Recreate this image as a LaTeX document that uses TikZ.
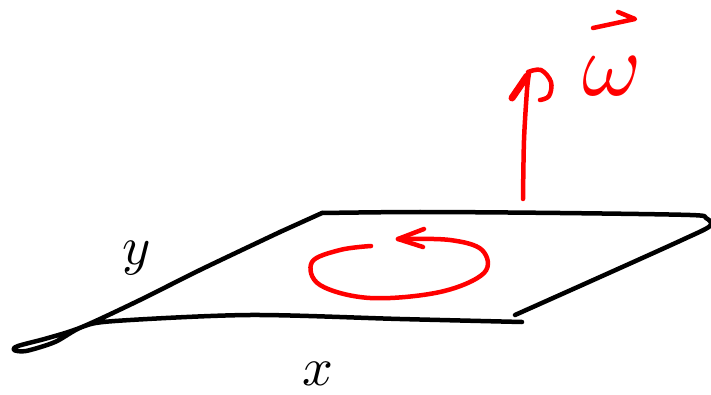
\documentclass[tikz,border=0pt]{standalone}
\begin{document}
\begin{tikzpicture}[x=1pt,y=-1pt,
  ink/.style={line width=4.5pt,line cap=round,line join=round},
  blackink/.style={ink,draw=black},
  redink/.style={ink,draw=red},
  lbl/.style={inner sep=0pt}]
\useasboundingbox (0,0) rectangle (711,395);
% plane: top edge and right corner
\draw[blackink] plot[smooth,tension=0.5] coordinates {(322,213) (420,212) (560,213) (690,215) (706,218) (710,226) (682,240) (600,277) (515,315)};
% left edge with the small loop, then bottom edge
\draw[blackink] plot[smooth,tension=0.5] coordinates {(280,232) (322,213)};
\draw[blackink] plot[smooth,tension=0.5] coordinates {(280,232) (200,270) (140,300) (82,327) (48,338) (18,346) (14,350) (26,351) (55,342) (82,327) (115,321) (250,315) (400,319) (522,322)};
% rotation arrow
\draw[redink] plot[smooth,tension=0.6] coordinates {(371,246) (340,250) (312,262) (320,285) (370,298) (440,292) (484,273) (482,250) (450,240) (400,239)};
\draw[redink] (398,239) -- (424,229);
\draw[redink] (398,239) -- (423,247);
% vector arrow
\draw[redink] plot[smooth,tension=0.5] coordinates {(523,199) (524,140) (527,90) (529,73)};
\draw[red,line width=7pt,line cap=round] (527,76) -- (512,98);
\draw[redink] plot[smooth,tension=0.6] coordinates {(528,72) (541,70) (551,82) (549,96) (540,100)};
\node[lbl,text=red,scale=9] (w) at (612,76) {$\omega$};
\coordinate (va) at (593,28);
\coordinate (vb) at (635,19);
\coordinate (vc) at (618,12);
\draw[redink] (va) -- (vb) -- (vc);
% axis labels
\node[lbl,scale=5.4] (y) at (137,258) {$y$};
\node[lbl,scale=5.4] (x) at (318,374) {$x$};
\end{tikzpicture}
\end{document}
